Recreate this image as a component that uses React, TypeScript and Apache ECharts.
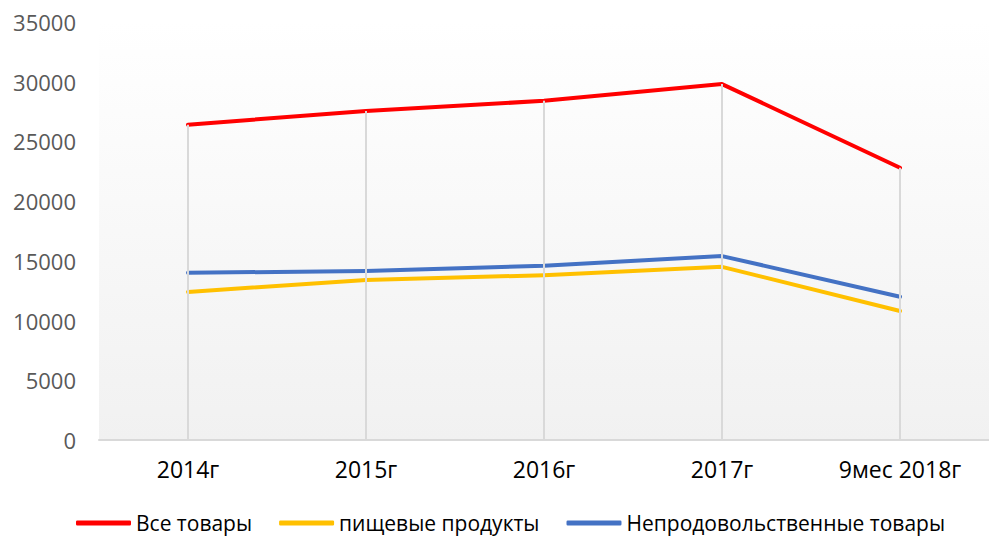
import React, { useEffect, useRef } from "react";
import * as echarts from "echarts";

const categories = ["2014г", "2015г", "2016г", "2017г", "9мес 2018г"];
const allGoods = [26400, 27550, 28400, 29800, 22800];
const foodProducts = [12400, 13400, 13800, 14500, 10800];
const nonFoodGoods = [14000, 14150, 14600, 15400, 12000];
const yTicks = { min: 0, max: 35000, interval: 5000 };
const seriesNames = ["Все товары", "пищевые продукты", "Непродовольственные товары"];
const colors = ["#ff0000", "#ffc000", "#4472c4"];

export default function App() {
  const ref = useRef<HTMLDivElement>(null);
  useEffect(() => {
    if (!ref.current) return;
    const chart = echarts.init(ref.current, null, { renderer: "svg" });
    const maxVals = categories.map((_, i) =>
      Math.max(allGoods[i], foodProducts[i], nonFoodGoods[i])
    );
    const font = "'Open Sans', sans-serif";
    const mkLine = (name: string, data: number[], color: string) => ({
      name,
      type: "line",
      data,
      symbol: "none",
      z: 3,
      lineStyle: { color, width: 4, cap: "round", join: "round" },
      itemStyle: { color },
    });
    chart.setOption({
      animation: false,
      backgroundColor: "#ffffff",
      grid: {
        left: 99,
        right: 0,
        top: 22,
        bottom: 98,
        show: true,
        borderWidth: 0,
        backgroundColor: {
          type: "linear",
          x: 0,
          y: 0,
          x2: 0,
          y2: 1,
          colorStops: [
            { offset: 0, color: "#ffffff" },
            { offset: 1, color: "#f1f1f1" },
          ],
        },
      },
      legend: {
        data: seriesNames,
        left: 76,
        top: 512,
        padding: 0,
        itemWidth: 55,
        itemHeight: 5,
        itemGap: 27,
        icon: "roundRect",
        textStyle: {
          fontFamily: font,
          fontSize: 21,
          lineHeight: 22,
          color: "#000000",
        },
      },
      xAxis: {
        type: "category",
        data: categories,
        boundaryGap: true,
        axisLine: { lineStyle: { color: "#d9d9d9", width: 2 } },
        axisTick: { show: false },
        axisLabel: {
          fontFamily: font,
          fontSize: 23,
          color: "#000000",
          margin: 17,
        },
        splitLine: { show: false },
      },
      yAxis: {
        type: "value",
        min: yTicks.min,
        max: yTicks.max,
        interval: yTicks.interval,
        axisLine: { show: false },
        axisTick: { show: false },
        splitLine: { show: false },
        axisLabel: {
          fontFamily: font,
          fontSize: 22,
          color: "#595959",
          margin: 23,
          formatter: (v: number) => String(v),
        },
      },
      series: [
        {
          name: "drop",
          type: "line",
          data: maxVals,
          symbol: "none",
          lineStyle: { width: 0, opacity: 0 },
          silent: true,
          z: 1,
          markLine: {
            symbol: "none",
            silent: true,
            label: { show: false },
            lineStyle: { color: "#d9d9d9", width: 2, type: "solid" },
            data: maxVals.map((v, i) => [
              { coord: [i, 0] },
              { coord: [i, v] },
            ]),
          },
        },
        mkLine(seriesNames[0], allGoods, colors[0]),
        mkLine(seriesNames[1], foodProducts, colors[1]),
        mkLine(seriesNames[2], nonFoodGoods, colors[2]),
      ],
    });
    return () => chart.dispose();
  }, []);
  return (
    <div
      ref={ref}
      style={{ position: "fixed", left: 0, top: 0, width: 989, height: 538 }}
    />
  );
}
